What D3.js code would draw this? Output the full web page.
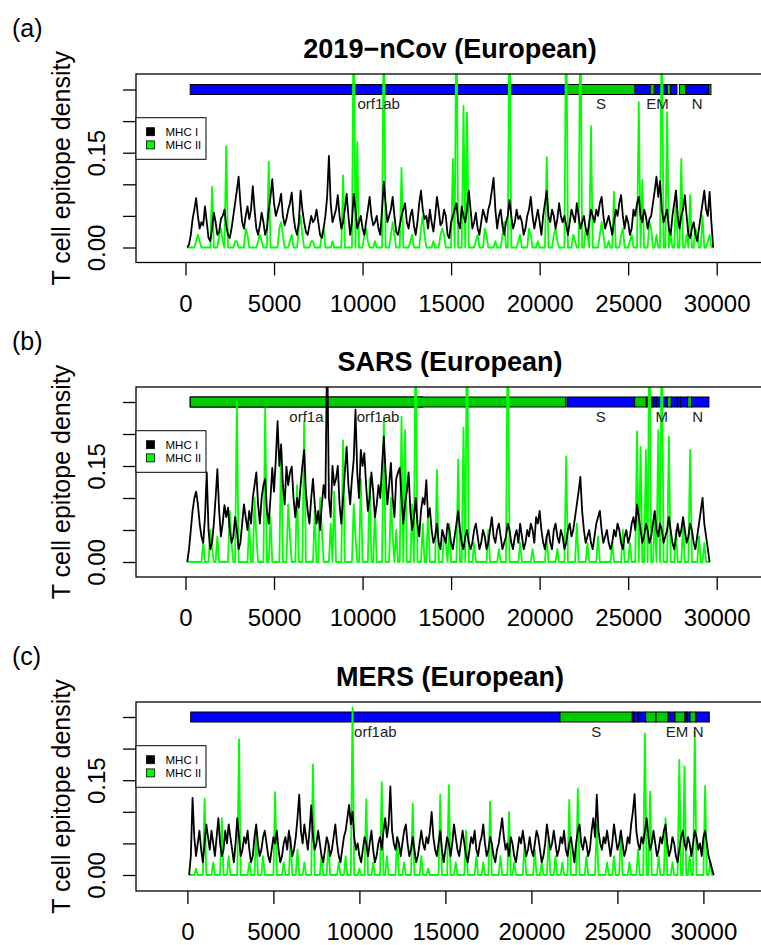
<!DOCTYPE html>
<html><head><meta charset="utf-8">
<script src="https://cdn.jsdelivr.net/npm/d3@7"></script>
<style>body{margin:0;background:#fff} svg{display:block}</style>
</head><body>
<svg id="chart" width="761" height="945"></svg>
<script>
// ---------------- DATA ----------------
const xTicks = [0, 5000, 10000, 15000, 20000, 25000, 30000];
const yTicks = [0, 0.05, 0.10, 0.15, 0.20, 0.25];
const yTickLabels = ["0.00", "", "", "0.15", "", ""];
const seriesNames = ["MHC I", "MHC II"];
const panelLetters = ["(a)", "(b)", "(c)"];
const panelTitles = ["2019\u2212nCov (European)", "SARS (European)", "MERS (European)"];
const gridStep = [100, 100, 100]; // genome positions sampled every 100 nt, starting at 100
const barLevel = 0.25;            // genome annotation drawn at this density level

// 2019-nCov
const covMHC1 = [
 0,0.005,0.02,0.045,0.06,0.078,0.05,0.03,0.04,0.035,
 0.065,0.04,0.015,0.01,0.03,0.055,0.04,0.02,0.025,0.045,
 0.05,0.06,0.035,0.02,0.015,0.03,0.05,0.07,0.09,0.112,
 0.07,0.04,0.03,0.05,0.065,0.045,0.06,0.097,0.06,0.03,
 0.02,0.035,0.055,0.04,0.02,0.03,0.06,0.08,0.108,0.07,
 0.05,0.06,0.07,0.085,0.05,0.035,0.045,0.06,0.07,0.087,
 0.05,0.03,0.02,0.04,0.09,0.06,0.04,0.025,0.02,0.035,
 0.05,0.04,0.045,0.06,0.04,0.02,0.015,0.03,0.05,0.08,
 0.145,0.07,0.04,0.05,0.06,0.083,0.05,0.03,0.04,0.06,
 0.085,0.05,0.02,0.04,0.085,0.06,0.03,0.04,0.05,0.03,
 0.02,0.04,0.06,0.08,0.05,0.035,0.04,0.05,0.03,0.02,
 0.06,0.104,0.07,0.04,0.05,0.06,0.08,0.05,0.025,0.02,
 0.035,0.05,0.06,0.07,0.04,0.03,0.05,0.06,0.035,0.02,
 0.04,0.07,0.09,0.06,0.045,0.05,0.03,0.06,0.04,0.025,
 0.05,0.08,0.06,0.035,0.04,0.06,0.05,0.02,0.015,0.04,
 0.05,0.06,0.07,0.04,0.03,0.065,0.05,0.04,0.06,0.09,
 0.06,0.03,0.04,0.055,0.03,0.02,0.04,0.06,0.05,0.04,
 0.06,0.07,0.09,0.11,0.06,0.03,0.05,0.06,0.035,0.02,
 0.04,0.05,0.075,0.05,0.03,0.04,0.06,0.045,0.05,0.04,
 0.02,0.03,0.05,0.06,0.08,0.05,0.03,0.045,0.06,0.04,
 0.02,0.05,0.07,0.09,0.05,0.04,0.06,0.05,0.03,0.045,
 0.07,0.05,0.04,0.05,0.035,0.02,0.04,0.06,0.05,0.04,
 0.07,0.05,0.03,0.04,0.05,0.03,0.02,0.04,0.06,0.05,
 0.04,0.06,0.05,0.07,0.08,0.05,0.03,0.04,0.05,0.035,
 0.02,0.04,0.06,0.05,0.07,0.083,0.05,0.03,0.05,0.04,
 0.02,0.03,0.06,0.05,0.07,0.08,0.05,0.04,0.06,0.05,
 0.03,0.045,0.05,0.07,0.09,0.112,0.08,0.105,0.06,0.04,
 0.05,0.06,0.03,0.02,0.05,0.07,0.09,0.05,0.03,0.05,
 0.06,0.083,0.05,0.02,0.015,0.03,0.04,0.02,0.01,0.03,
 0.05,0.07,0.09,0.06,0.05,0.088,0.04,0];
const covMHC2 = [
 0,0,0,0,0,0.01,0.02,0.01,0,0,
 0,0,0,0,0.096,0,0,0,0.02,0.03,
 0.01,0,0.16,0,0,0,0,0.01,0.01,0,
 0,0,0,0.03,0.02,0,0,0,0,0,
 0.01,0.02,0.01,0,0,0,0.136,0,0,0,
 0,0,0.03,0.04,0.02,0,0,0,0.01,0.02,
 0,0,0,0.03,0.05,0.02,0,0,0,0,
 0.01,0.01,0,0,0,0,0.02,0.03,0,0,
 0,0,0.01,0,0,0,0,0,0.114,0,
 0,0,0,0,0.4,0,0.167,0,0,0,
 0.02,0.03,0.01,0,0,0,0.01,0,0,0,
 0,0.4,0,0,0,0.02,0.04,0.02,0,0,
 0,0.126,0,0,0,0,0.01,0.02,0,0,
 0,0,0.03,0.05,0.02,0,0,0,0,0.01,
 0,0,0,0.02,0.03,0.02,0,0,0,0,
 0.14,0,0.4,0,0,0,0.224,0,0.213,0,
 0,0,0,0.01,0.02,0,0,0,0.03,0.02,
 0,0,0,0,0.01,0,0,0,0.02,0.04,
 0,0,0.4,0,0,0,0,0.01,0.02,0,
 0,0,0,0.03,0.02,0,0,0,0.01,0,
 0,0,0,0.143,0,0,0,0.02,0.03,0.01,
 0,0,0,0,0.4,0,0,0,0.02,0.01,
 0,0,0.4,0,0,0.03,0.02,0,0.192,0,
 0,0,0,0.02,0.04,0.02,0,0,0.01,0,
 0,0.088,0,0,0,0.02,0.03,0,0,0,
 0.01,0.02,0,0,0,0.23,0,0.107,0,0,
 0,0.04,0.03,0,0,0.02,0,0,0.4,0,
 0,0.214,0,0.02,0,0,0.09,0,0,0.14,
 0,0,0.02,0,0.083,0,0,0.03,0.02,0,
 0,0.05,0,0,0.01,0.02,0,0];
const covGenes = [[266,21555,"blue"],[21563,25384,"green"],[25393,26220,"blue"],[26245,26472,"green"],
 [26523,27191,"blue"],[27202,27387,"green"],[27394,27759,"blue"],[27894,28259,"green"],
 [28274,29533,"blue"],[29558,29674,"green"]];
const covLabels = [["orf1ab",10910],["S",23473],["E",26300],["M",26940],["N",28903]];

// SARS
const sarsMHC1 = [
 0,0.02,0.05,0.08,0.1,0.11,0.09,0.06,0.04,0.03,
 0.07,0.14,0.05,0.02,0.03,0.06,0.1,0.145,0.08,0.04,
 0.06,0.089,0.07,0.085,0.05,0.03,0.04,0.07,0.05,0.02,
 0.03,0.06,0.09,0.07,0.05,0.08,0.06,0.1,0.12,0.14,
 0.09,0.06,0.1,0.12,0.13,0.08,0.06,0.1,0.147,0.11,
 0.16,0.22,0.15,0.183,0.12,0.09,0.149,0.12,0.14,0.149,
 0.1,0.07,0.1,0.085,0.12,0.15,0.175,0.11,0.08,0.06,
 0.1,0.13,0.09,0.06,0.08,0.05,0.09,0.12,0.1,0.34,
 0.1,0.07,0.15,0.12,0.13,0.15,0.09,0.06,0.1,0.14,
 0.18,0.12,0.09,0.13,0.16,0.238,0.14,0.1,0.175,0.15,
 0.17,0.12,0.08,0.1,0.14,0.11,0.07,0.09,0.12,0.1,
 0.15,0.196,0.14,0.09,0.12,0.155,0.1,0.07,0.13,0.14,
 0.147,0.1,0.06,0.09,0.11,0.14,0.08,0.05,0.07,0.1,
 0.06,0.04,0.08,0.1,0.09,0.128,0.07,0.084,0.05,0.03,
 0.04,0.06,0.03,0.02,0.05,0.04,0.03,0.06,0.05,0.03,
 0.02,0.04,0.06,0.08,0.05,0.03,0.02,0.04,0.05,0.03,
 0.02,0.03,0.05,0.06,0.04,0.02,0.03,0.05,0.04,0.02,
 0.03,0.05,0.07,0.04,0.03,0.05,0.06,0.04,0.02,0.03,
 0.04,0.06,0.05,0.03,0.02,0.04,0.05,0.03,0.06,0.04,
 0.02,0.03,0.05,0.04,0.06,0.05,0.03,0.07,0.06,0.08,
 0.05,0.03,0.02,0.04,0.05,0.03,0.02,0.05,0.06,0.04,
 0.03,0.05,0.04,0.02,0.03,0.05,0.06,0.04,0.05,0.07,
 0.09,0.11,0.133,0.08,0.05,0.03,0.04,0.05,0.03,0.02,
 0.04,0.06,0.07,0.08,0.05,0.03,0.04,0.05,0.03,0.02,
 0.03,0.05,0.04,0.06,0.05,0.03,0.02,0.04,0.05,0.03,
 0.04,0.06,0.07,0.05,0.09,0.07,0.05,0.03,0.04,0.06,
 0.05,0.03,0.04,0.06,0.08,0.05,0.04,0.06,0.05,0.03,
 0.04,0.05,0.07,0.05,0.03,0.02,0.04,0.06,0.04,0.05,
 0.07,0.05,0.03,0.04,0.06,0.05,0.03,0.02,0.04,0.06,
 0.08,0.1,0.06,0.04,0.02,0];
const sarsMHC2 = [
 0,0,0,0,0,0,0,0,0,0.03,
 0,0,0,0.05,0.02,0,0,0.04,0,0,
 0,0,0,0,0.08,0.03,0,0,0.25,0,
 0,0,0,0,0,0.06,0,0,0.1,0.04,
 0,0,0,0,0.24,0,0,0.07,0,0,
 0,0,0,0.185,0,0,0,0.09,0.04,0,
 0,0,0.12,0,0,0,0.22,0,0,0,
 0,0,0.08,0,0,0.1,0.05,0,0,0,
 0,0.06,0,0.11,0,0,0,0,0.19,0,
 0,0,0,0,0.09,0.04,0,0,0.13,0,
 0,0,0,0.131,0,0,0.08,0,0,0,
 0,0.227,0,0,0,0.1,0.04,0,0.05,0,
 0,0.227,0,0.206,0,0,0,0.09,0,0.4,
 0,0,0,0.06,0,0,0.08,0,0,0,
 0,0.144,0,0,0,0.04,0.03,0,0.06,0,
 0,0,0,0.16,0,0,0.21,0,0.4,0,
 0,0,0.03,0,0,0,0,0,0,0,
 0.05,0,0,0,0,0,0.02,0,0,0,
 0,0.4,0,0,0,0,0,0,0.03,0,
 0,0,0,0,0,0.02,0,0,0,0,
 0,0,0,0.04,0,0,0,0,0,0.02,
 0,0,0,0,0.165,0,0,0,0,0,
 0.06,0,0,0,0,0,0.03,0,0,0,
 0,0,0.04,0,0,0,0,0,0,0,
 0.03,0,0,0,0,0,0.05,0,0,0,
 0.03,0,0,0,0.204,0,0.18,0,0,0.175,
 0,0.4,0,0,0.07,0,0.206,0,0.4,0,
 0,0,0.196,0,0,0,0.05,0,0,0,
 0.06,0,0,0,0.175,0,0,0,0,0.04,
 0,0,0.03,0,0,0];
const sarsGenes = [[265,13398,"green"],[265,21485,"green"],[21546,25367,"blue"],[25367,26027,"green"],
 [26027,26309,"blue"],[26309,26400,"green"],[26400,26591,"blue"],[26591,27212,"blue"],[27212,27438,"green"],
 [27438,27777,"blue"],[27777,27963,"blue"],[27963,28358,"blue"],[28358,28584,"green"],[28584,29560,"blue"]];
const sarsLabels = [["orf1a",6831],["orf1ab",10875],["S",23456],["M",26900],["N",28922]];

// MERS
const merMHC1 = [
 0,0.03,0.122,0.06,0.03,0.05,0.07,0.04,0.02,0.05,
 0.08,0.06,0.04,0.07,0.05,0.03,0.06,0.09,0.05,0.03,
 0.04,0.07,0.05,0.08,0.06,0.04,0.02,0.05,0.09,0.06,
 0.03,0.04,0.06,0.05,0.07,0.04,0.02,0.03,0.06,0.08,
 0.05,0.03,0.04,0.06,0.07,0.05,0.03,0.02,0.04,0.06,
 0.05,0.07,0.04,0.02,0.03,0.05,0.06,0.04,0.07,0.05,
 0.03,0.04,0.06,0.09,0.127,0.07,0.05,0.08,0.06,0.04,
 0.07,0.11,0.06,0.04,0.05,0.07,0.05,0.03,0.02,0.04,
 0.06,0.05,0.03,0.04,0.06,0.08,0.05,0.03,0.02,0.04,
 0.06,0.07,0.09,0.111,0.08,0.1,0.06,0.04,0.05,0.03,
 0.02,0.04,0.06,0.05,0.03,0.05,0.07,0.04,0.02,0.03,
 0.05,0.06,0.04,0.07,0.09,0.06,0.08,0.14,0.07,0.05,
 0.04,0.06,0.05,0.03,0.05,0.07,0.08,0.05,0.03,0.04,
 0.06,0.04,0.02,0.03,0.05,0.07,0.05,0.04,0.06,0.05,
 0.07,0.1,0.06,0.04,0.03,0.05,0.07,0.04,0.02,0.04,
 0.06,0.05,0.03,0.05,0.08,0.06,0.04,0.03,0.05,0.07,
 0.05,0.03,0.02,0.04,0.06,0.05,0.07,0.04,0.03,0.05,
 0.06,0.08,0.05,0.03,0.04,0.06,0.05,0.03,0.02,0.04,
 0.05,0.07,0.09,0.06,0.04,0.05,0.03,0.06,0.05,0.03,
 0.02,0.04,0.06,0.05,0.07,0.05,0.03,0.04,0.06,0.04,
 0.03,0.05,0.07,0.06,0.04,0.02,0.03,0.05,0.08,0.06,
 0.04,0.05,0.07,0.05,0.03,0.04,0.06,0.05,0.07,0.04,
 0.03,0.05,0.06,0.04,0.02,0.05,0.07,0.08,0.05,0.04,
 0.06,0.05,0.03,0.04,0.07,0.09,0.06,0.127,0.07,0.05,
 0.04,0.06,0.05,0.07,0.05,0.03,0.05,0.08,0.06,0.04,
 0.05,0.07,0.05,0.03,0.04,0.06,0.05,0.08,0.1,0.128,
 0.07,0.05,0.04,0.06,0.05,0.07,0.09,0.06,0.04,0.05,
 0.07,0.05,0.03,0.04,0.06,0.05,0.07,0.08,0.05,0.03,
 0.04,0.06,0.05,0.03,0.02,0.04,0.06,0.07,0.05,0.04,
 0.06,0.05,0.03,0.05,0.07,0.06,0.04,0.05,0.03,0.06,
 0.07,0.05,0.03,0.02,0.01,0];
const merMHC2 = [
 0,0,0,0,0.01,0,0,0,0,0.121,
 0,0,0,0,0.02,0,0,0,0,0.09,
 0,0,0,0.03,0,0,0,0,0,0.215,
 0,0,0,0,0,0.02,0,0,0,0.07,
 0,0,0,0.03,0,0,0,0,0,0,
 0.131,0,0,0,0,0.02,0,0,0,0.06,
 0,0,0,0.04,0,0,0,0.02,0,0,
 0,0,0.175,0,0,0,0,0.03,0,0,
 0,0.05,0,0,0,0,0,0.02,0,0,
 0,0.03,0,0,0,0.265,0,0,0,0.01,
 0,0,0,0.12,0,0,0,0.02,0,0,
 0,0,0.147,0,0,0.03,0,0,0,0,
 0,0.06,0,0,0,0.02,0,0,0,0,
 0.113,0,0,0,0,0.03,0,0,0,0.01,
 0,0,0,0,0,0,0.127,0,0,0,
 0,0.142,0,0,0,0.02,0,0,0,0,
 0,0.07,0,0,0,0,0,0.03,0,0,
 0,0.02,0,0,0,0.116,0,0,0,0,
 0,0.03,0,0,0,0,0.1,0,0,0.02,
 0,0,0,0,0,0.05,0,0,0,0,
 0,0.04,0,0,0,0.02,0,0,0,0.06,
 0,0,0,0.03,0,0,0,0.02,0,0,
 0,0.119,0,0,0,0,0.137,0,0,0,
 0,0.03,0,0,0,0,0,0.08,0,0,
 0,0,0,0.02,0,0,0,0.03,0,0,
 0,0.07,0,0,0,0,0.02,0,0,0,
 0,0.04,0,0,0,0.224,0,0,0.132,0,
 0,0,0,0.03,0,0,0,0.09,0,0,
 0,0.02,0,0,0,0.182,0,0,0.172,0,
 0,0.03,0,0,0.227,0,0,0,0,0,
 0.141,0,0,0.02,0,0];
const merGenes = [[192,21663,"blue"],[21663,25866,"green"],[25866,25965,"blue"],[25965,26215,"blue"],
 [26215,26645,"blue"],[26645,27244,"green"],[27244,27959,"green"],[27959,28349,"blue"],[28349,28930,"green"],
 [28930,29047,"blue"],[29047,29221,"blue"],[29221,29570,"green"],[29570,30343,"blue"]];
const merLabels = [["orf1ab",10928],["S",23765],["E",28100],["M",28760],["N",29703]];

// ---------------- STYLE / LAYOUT ----------------
const COLORS = {blue: "#0000ff", green: "#00cd00"};
const LINE_COLORS = ["#000000", "#00ff00"];
const FONT = "'Liberation Sans', Arial, Helvetica, sans-serif";
const layout = [
  {top: 74,  bottom: 262.5, y0: 247.5, y25: 89.5, x0: 185.5, x30: 716.7},
  {top: 387, bottom: 577,   y0: 562,   y25: 402,  x0: 185.5, x30: 716.7},
  {top: 702, bottom: 891,   y0: 875,   y25: 717,  x0: 187.4, x30: 703.4}
];
const panels = [
  {mhc1: covMHC1, mhc2: covMHC2, genes: covGenes, labels: covLabels},
  {mhc1: sarsMHC1, mhc2: sarsMHC2, genes: sarsGenes, labels: sarsLabels},
  {mhc1: merMHC1, mhc2: merMHC2, genes: merGenes, labels: merLabels}
];

const svg = d3.select("#chart");
const left = 136, right = 775;

panels.forEach((p, k) => {
  const L = layout[k];
  const step = gridStep[k];
  const x = d3.scaleLinear().domain([0, 30000]).range([L.x0, L.x30]);
  const y = d3.scaleLinear().domain([0, 0.25]).range([L.y0, L.y25]);
  const g = svg.append("g");

  const clipId = "clip" + k;
  svg.append("clipPath").attr("id", clipId).append("rect")
    .attr("x", left).attr("y", L.top).attr("width", right - left).attr("height", L.bottom - L.top);

  g.append("text").attr("x", 12).attr("y", L.top - 37)
    .style("font-family", FONT).style("font-size", "25px").text(panelLetters[k]);
  g.append("text").attr("x", 450).attr("y", L.top - 16).attr("text-anchor", "middle")
    .style("font-family", FONT).style("font-size", "27px").style("font-weight", "bold")
    .text(panelTitles[k]);

  const plot = g.append("g").attr("clip-path", `url(#${clipId})`);

  plot.selectAll("rect.gene").data(p.genes).join("rect").attr("class", "gene")
    .attr("x", d => x(d[0])).attr("width", d => x(d[1]) - x(d[0]))
    .attr("y", y(barLevel) - 5).attr("height", 10)
    .attr("fill", d => COLORS[d[2]]).attr("stroke", "#000").attr("stroke-width", 1);

  g.selectAll("text.glab").data(p.labels).join("text").attr("class", "glab")
    .attr("x", d => x(d[1])).attr("y", y(barLevel) + 19.5).attr("text-anchor", "middle")
    .style("font-family", FONT).style("font-size", "15px").attr("fill", "#222")
    .text(d => d[0]);

  const line = d3.line().x((d, i) => x(step * (i + 1))).y(d => y(d));
  [p.mhc2, p.mhc1].forEach((series, j) => {
    plot.append("path").datum(series).attr("d", line)
      .attr("fill", "none").attr("stroke", LINE_COLORS[1 - j])
      .attr("stroke-width", 1.8).attr("stroke-linejoin", "round");
  });

  g.append("rect").attr("x", left).attr("y", L.top).attr("width", right - left).attr("height", L.bottom - L.top)
    .attr("fill", "none").attr("stroke", "#000").attr("stroke-width", 1.3);

  const xa = g.append("g").attr("transform", `translate(0,${L.bottom})`)
    .call(d3.axisBottom(x).tickValues(xTicks).tickSize(13).tickSizeOuter(0).tickFormat(d3.format("d")));
  xa.select(".domain").remove();
  xa.selectAll("line").attr("stroke", "#000").attr("stroke-width", 1.3);
  xa.selectAll("text").attr("y", 32).attr("dy", "0.71em").attr("fill", "#000")
    .style("font-family", FONT).style("font-size", "24px");

  const ya = g.append("g").attr("transform", `translate(${left},0)`)
    .call(d3.axisLeft(y).tickValues(yTicks).tickSize(13).tickSizeOuter(0).tickFormat((d, i) => yTickLabels[i]));
  ya.select(".domain").remove();
  ya.selectAll("line").attr("stroke", "#000").attr("stroke-width", 1.3);
  ya.selectAll("text").attr("x", null).attr("dy", null).attr("y", null)
    .attr("transform", `translate(${105 - left},0) rotate(-90)`).attr("text-anchor", "middle")
    .attr("fill", "#000").style("font-family", FONT).style("font-size", "24px");

  g.append("text").attr("transform", `translate(70,${(L.top + L.bottom) / 2}) rotate(-90)`)
    .attr("text-anchor", "middle").style("font-family", FONT).style("font-size", "25px")
    .text("T cell epitope density");

  const lg = g.append("g").attr("transform", `translate(${left},${L.top + 43.7})`);
  lg.append("rect").attr("width", 70).attr("height", 41.6).attr("fill", "#fff").attr("stroke", "#000").attr("stroke-width", 1);
  seriesNames.forEach((name, j) => {
    const cy = 14 + j * 13.2;
    lg.append("rect").attr("x", 10.5).attr("y", cy - 4).attr("width", 8).attr("height", 8)
      .attr("fill", LINE_COLORS[j]).attr("stroke", "#000").attr("stroke-width", 0.8);
    lg.append("text").attr("x", 29.5).attr("y", cy + 4)
      .style("font-family", FONT).style("font-size", "11.5px").text(name);
  });
});
</script>
</body></html>
